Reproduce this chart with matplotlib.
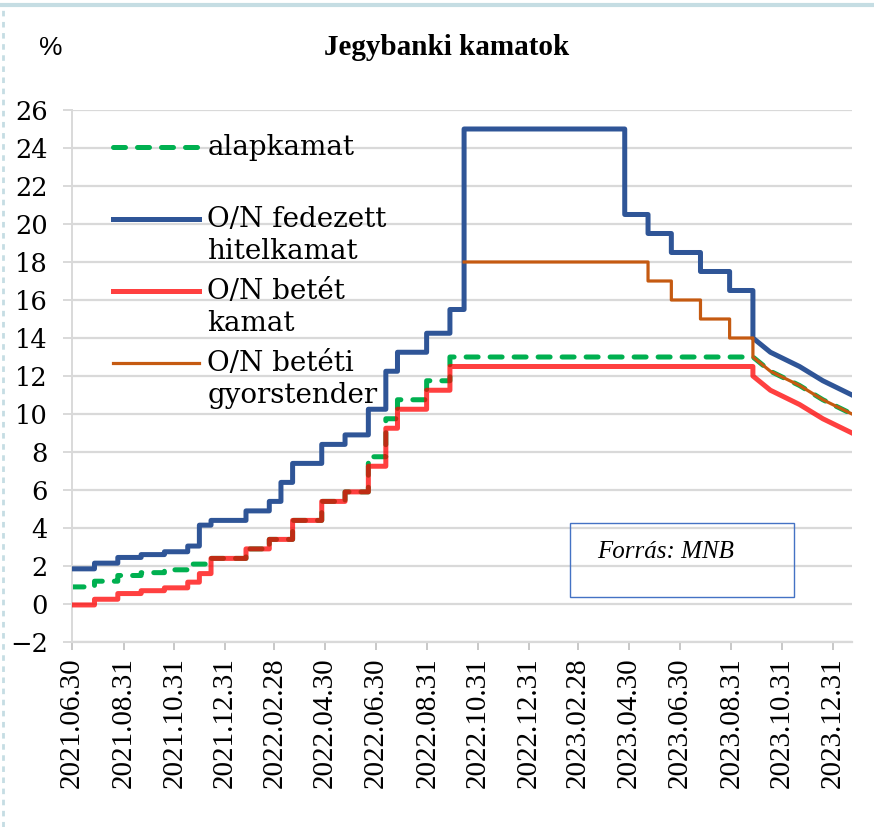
import numpy as np
import pandas as pd
import matplotlib
matplotlib.use('Agg')
import matplotlib.pyplot as plt
from matplotlib.legend_handler import HandlerLine2D
from matplotlib.patches import Rectangle
from matplotlib.lines import Line2D

# ---- data ----
# alapkamat
base_dates = ['2021-06-30', '2021-07-27', '2021-08-24', '2021-09-21', '2021-10-19',
              '2021-11-16', '2021-12-14', '2022-01-25', '2022-02-22', '2022-03-22',
              '2022-04-26', '2022-05-24', '2022-06-21', '2022-07-12', '2022-07-26',
              '2022-08-30', '2022-09-27']
base_vals = [0.9, 1.2, 1.5, 1.65, 1.8, 2.1, 2.4, 2.9, 3.4, 4.4, 5.4, 5.9, 7.75,
             9.75, 10.75, 11.75, 13.0]

# O/N fedezett hitelkamat
loan_dates = ['2021-06-30', '2021-07-27', '2021-08-24', '2021-09-21', '2021-10-19',
              '2021-11-16', '2021-11-30', '2021-12-14', '2022-01-25', '2022-02-22',
              '2022-03-08', '2022-03-22', '2022-04-26', '2022-05-24', '2022-06-21',
              '2022-07-12', '2022-07-26', '2022-08-30', '2022-09-27', '2022-10-14',
              '2023-04-25', '2023-05-23', '2023-06-20', '2023-07-25', '2023-08-29']
loan_vals = [1.85, 2.15, 2.45, 2.6, 2.75, 3.05, 4.15, 4.4, 4.9, 5.4, 6.4, 7.4, 8.4,
             8.9, 10.25, 12.25, 13.25, 14.25, 15.5, 25.0, 20.5, 19.5, 18.5, 17.5, 16.5]

# O/N betét kamat
dep_dates = ['2021-06-30', '2021-07-27', '2021-08-24', '2021-09-21', '2021-10-19',
             '2021-11-16', '2021-11-30', '2021-12-14', '2022-01-25', '2022-02-22',
             '2022-03-22', '2022-04-26', '2022-05-24', '2022-06-21', '2022-07-12',
             '2022-07-26', '2022-08-30', '2022-09-27']
dep_vals = [-0.05, 0.25, 0.55, 0.7, 0.85, 1.15, 1.6, 2.4, 2.9, 3.4, 4.4, 5.4, 5.9,
            7.25, 9.25, 10.25, 11.25, 12.5]

# O/N betéti gyorstender
tender_dates = ['2022-10-14', '2023-05-23', '2023-06-20', '2023-07-25', '2023-08-29']
tender_vals = [18.0, 17.0, 16.0, 15.0, 14.0]

# from late Sept 2023 the series are joined linearly
tail_dates = ['2023-09-26', '2023-10-17', '2023-11-21', '2023-12-19', '2024-01-23']
base_tail = [13.0, 12.25, 11.5, 10.75, 10.0]
loan_tail = [14.0, 13.25, 12.5, 11.75, 11.0]
dep_tail = [12.0, 11.25, 10.5, 9.75, 9.0]
tender_tail = [13.0, 12.25, 11.5, 10.75, 10.0]

tick_dates = ['2021-06-30', '2021-08-31', '2021-10-31', '2021-12-31', '2022-02-28',
              '2022-04-30', '2022-06-30', '2022-08-31', '2022-10-31', '2022-12-31',
              '2023-02-28', '2023-04-30', '2023-06-30', '2023-08-31', '2023-10-31',
              '2023-12-31']
tick_labels = [d.replace('-', '.') for d in tick_dates]

labels = ['alapkamat\n', 'O/N fedezett\nhitelkamat', 'O/N betét\nkamat',
          'O/N betéti\ngyorstender']

SERIF = ['DejaVu Serif', 'Liberation Serif']


def step_line(dates, vals, t_dates, t_vals):
    """Step path through the change dates, then straight segments for the tail."""
    d = list(pd.to_datetime(dates))
    td = list(pd.to_datetime(t_dates))
    ends = d[1:] + [td[0]]
    xs, ys = [], []
    for start, end, v in zip(d, ends, vals):
        xs += [start, end]
        ys += [v, v]
    xs += td
    ys += list(t_vals)
    return np.array(xs, dtype='datetime64[D]'), np.array(ys)


class FirstLineHandler(HandlerLine2D):
    """Put the legend line next to the first text line, like Excel does."""

    def __init__(self, shift=25, **kw):
        super().__init__(**kw)
        self.shift = shift

    def create_artists(self, legend, orig_handle, xdescent, ydescent, width,
                       height, fontsize, trans):
        return super().create_artists(legend, orig_handle, xdescent,
                                      ydescent - self.shift, width, height,
                                      fontsize, trans)


fig = plt.figure(figsize=(8.74, 8.27), dpi=100)
ax = fig.add_axes([0.0824, 0.2237, 0.8924, 0.6433])

x, y = step_line(base_dates, base_vals, tail_dates, base_tail)
l_base, = ax.plot(x, y, color='#00b050', lw=3.6, ls=(0, (2.4, 2.4)),
                  dash_capstyle='round', zorder=2)
x, y = step_line(loan_dates, loan_vals, tail_dates, loan_tail)
l_loan, = ax.plot(x, y, color='#2f5597', lw=3.6, zorder=3)
x, y = step_line(dep_dates, dep_vals, tail_dates, dep_tail)
l_dep, = ax.plot(x, y, color='#ff0000', alpha=0.75, lw=3.6, zorder=4)
x, y = step_line(tender_dates, tender_vals, tail_dates, tender_tail)
l_tender, = ax.plot(x, y, color='#c55a11', lw=2.3, zorder=5)

ax.set_xlim(pd.Timestamp('2021-06-30'), pd.Timestamp('2024-01-23'))
ax.set_ylim(-2, 26)
ax.set_yticks(np.arange(-2, 27, 2))
ax.set_xticks(pd.to_datetime(tick_dates))
ax.set_xticklabels(tick_labels, rotation=90)
ax.tick_params(axis='y', length=6.5, width=1.4, color='#d9d9d9', labelsize=18.5,
               pad=11, labelfontfamily='DejaVu Serif')
ax.tick_params(axis='x', direction='out', length=6, width=1.2, color='#bfbfbf', pad=5,
               labelsize=21, labelfontfamily='Liberation Serif')

ax.yaxis.grid(True, color='#d9d9d9', lw=1.6)
ax.set_axisbelow(True)
for side in ['top', 'right']:
    ax.spines[side].set_visible(False)
ax.spines['left'].set_color('#d9d9d9')
ax.spines['bottom'].set_color('#d9d9d9')
ax.spines['left'].set_linewidth(1.4)
ax.spines['bottom'].set_linewidth(1.6)

handles = [l_base, l_loan, l_dep, l_tender]
leg = ax.legend(handles, labels, loc='upper left', bbox_to_anchor=(0.0526, 0.955),
                frameon=False, prop={'family': SERIF, 'size': 20},
                handlelength=3.1, handletextpad=0.3, labelspacing=0.48,
                borderpad=0, borderaxespad=0,
                handler_map={h: FirstLineHandler() for h in handles})
for t in leg.get_texts():
    t.set_linespacing(1.23)

# title, unit and source box
fig.text(0.511, 0.942, 'Jegybanki kamatok', ha='center', va='center',
         fontfamily='Liberation Serif', fontweight='bold', fontsize=21)
fig.text(0.058, 0.942, '%', ha='center', va='center',
         fontfamily='Liberation Sans', fontsize=19)
fig.add_artist(Rectangle((0.652, 0.278), 0.257, 0.0895, transform=fig.transFigure,
                         fill=False, edgecolor='#4472c4', lw=1.0))
fig.text(0.683, 0.333, 'Forrás: MNB', ha='left', va='center', style='italic',
         fontfamily='Liberation Serif', fontsize=18)

# frame of the text box the chart sat in
fig.add_artist(Line2D([0, 1], [0.994, 0.994], transform=fig.transFigure,
                      color='#c5dde3', lw=3))
fig.add_artist(Line2D([0.003, 0.003], [0, 0.994], transform=fig.transFigure,
                      color='#c5dde3', lw=2, ls=(0, (2, 2))))

fig.savefig('out.png', dpi=100)
